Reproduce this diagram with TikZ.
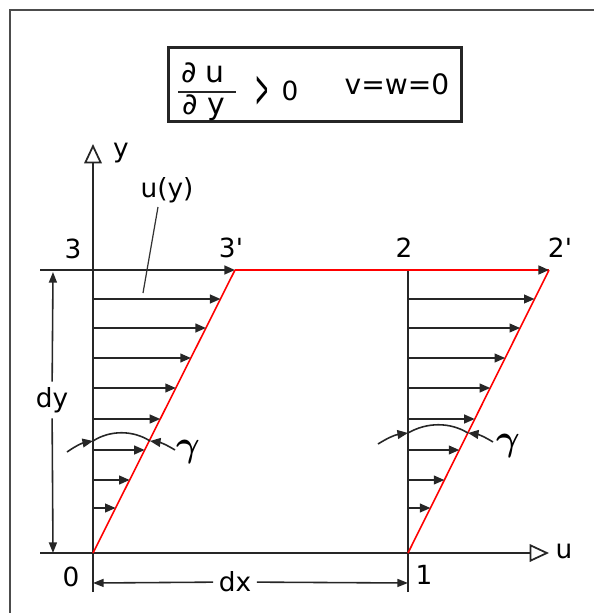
\documentclass[tikz,border=0pt]{standalone}
\usepackage{fontspec}
\setmainfont{DejaVu Sans}[Ligatures=TeXOff]
\usetikzlibrary{arrows.meta}
\begin{document}
\begin{tikzpicture}[x=0.02cm,y=-0.02cm,
  lbl/.style={font=\fontsize{15}{18}\selectfont, inner sep=0pt},
  boxlbl/.style={font=\fontsize{17}{20}\selectfont, inner sep=0pt},
  dimlbl/.style={font=\fontsize{15}{18}\selectfont, inner sep=3pt},
  ln/.style={line width=1.1pt, black!85},
  redln/.style={line width=0.9pt, red},
  prof/.style={line width=1pt, black!85, -{Triangle[length=6pt,width=5pt]}},
  axisarr/.style={line width=1pt, black!85, -{Triangle[open,length=11pt,width=10pt,line width=1pt]}},
  dimarr/.style={line width=0.9pt, black!85, -{Triangle[length=6pt,width=4.5pt]}},
  gam/.style={line width=0.9pt, black!85},
  gamarr/.style={line width=0.9pt, black!85, -{Triangle[length=6pt,width=5pt]}},
  gamlbl/.style={font=\fontsize{20}{20}\selectfont\boldmath, inner sep=0pt},
]
\useasboundingbox (0,0) rectangle (594,613);
% outer frame (cropped)
\draw[line width=1.6pt, black!70] (10,613) -- (10,10) -- (594,10);

% key points
\coordinate (O) at (93,553);
\coordinate (P1) at (408,553);
\coordinate (P3) at (93,270);
\coordinate (P3p) at (235,270);
\coordinate (P2) at (408,270);
\coordinate (P2p) at (549,270);
\coordinate (yb) at (93,592);
\coordinate (yt) at (93,144);
\coordinate (ul) at (40,553);
\coordinate (ur) at (549,553);
\coordinate (tl) at (40,270);
\coordinate (r1b) at (408,592);

% header box
\node[draw, line width=1.5pt, black!85, minimum width=5.85cm, minimum height=1.47cm, inner sep=0pt] (box) at (315,84.5) {};
\node[boxlbl] (du) at (203,73) {∂ u};
\node[boxlbl] (dy2) at (204,108) {∂ y};
\coordinate (barl) at (178,92);
\coordinate (barr) at (236,92);
\draw[line width=1.3pt, black!85] (barl) -- (barr);
\node[boxlbl] (gt) at (262,92) {\scalebox{0.55}[1.8]{>}};
\node[lbl] (zero) at (290,91) {0};
\node[boxlbl, font=\fontsize{16}{18}\selectfont] (vw) at (397,84) {v=w=0};

% axes
\draw[axisarr] (yb) -- (yt);
\draw[axisarr] (ul) -- (ur);
\node[lbl] (ylab) at (121,153) {y};
\node[lbl] (ulab) at (564,551) {u};

% vertical at 1
\draw[ln] (r1b) -- (P2);

% top line and red deformed edges
\draw[prof] (tl) -- (P3p);
\draw[redln, line width=1.2pt] (P3p) -- (P2p);
\draw[red, line width=1.2pt, -{Triangle[length=6pt,width=5pt,color=black!85]}] (P2) -- (P2p);
\draw[redln] (O) -- (P3p);
\draw[redln] (P1) -- (P2p);

% velocity profiles
\foreach \yy in {299,328,358,388,419,450,480,508}{
  \pgfmathsetmacro{\xl}{93+0.502*(553-\yy)}
  \pgfmathsetmacro{\xr}{408+0.4982*(553-\yy)}
  \draw[prof] (93,\yy) -- (\xl,\yy);
  \draw[prof] (408,\yy) -- (\xr,\yy);
}

% labels of corners
\node[lbl] (n3) at (73,249) {3};
\node[lbl] (n3p) at (231,248) {3'};
\node[lbl] (n2) at (404,248) {2};
\node[lbl] (n2p) at (560,248) {2'};
\node[lbl] (n0) at (71,577) {0};
\node[lbl] (n1) at (424,575) {1};

% u(y) with leader
\node[lbl] (uy) at (167,190) {u(y)};
\coordinate (ldA) at (158,207);
\coordinate (ldB) at (143,293);
\draw[line width=0.7pt, black!80] (ldA) -- (ldB);

% dy dimension
\coordinate (dyT) at (53,272);
\coordinate (dyB) at (53,553);
\node[dimlbl] (dy) at (52,400) {dy};
\draw[dimarr] (dy) -- (dyT);
\draw[dimarr] (dy) -- (dyB);

% dx dimension
\coordinate (dxL) at (93,583);
\coordinate (dxR) at (408,583);
\node[dimlbl] (dx) at (235,582) {dx};
\draw[dimarr] (dx) -- (dxL);
\draw[dimarr] (dx) -- (dxR);

% gamma angle, left
\coordinate (gLA) at (67,452);
\coordinate (gLB) at (93,441);
\coordinate (gLC) at (150,441);
\coordinate (gLD) at (175,450);
\draw[gamarr] (gLA) to[bend left=12] (gLB);
\draw[gam] (gLB) .. controls (110,430) and (133,430) .. (gLC);
\draw[gamarr] (gLD) to[bend right=12] (gLC);
\node[gamlbl] (gL) at (188,452) {$\gamma$};

% gamma angle, right
\coordinate (gRA) at (378,444);
\coordinate (gRB) at (408,433);
\coordinate (gRC) at (468,433);
\coordinate (gRD) at (493,442);
\draw[gamarr] (gRA) to[bend left=12] (gRB);
\draw[gam] (gRB) .. controls (427,422) and (450,422) .. (gRC);
\draw[gamarr] (gRD) to[bend right=12] (gRC);
\node[gamlbl] (gR) at (508,446) {$\gamma$};
\end{tikzpicture}
\end{document}
